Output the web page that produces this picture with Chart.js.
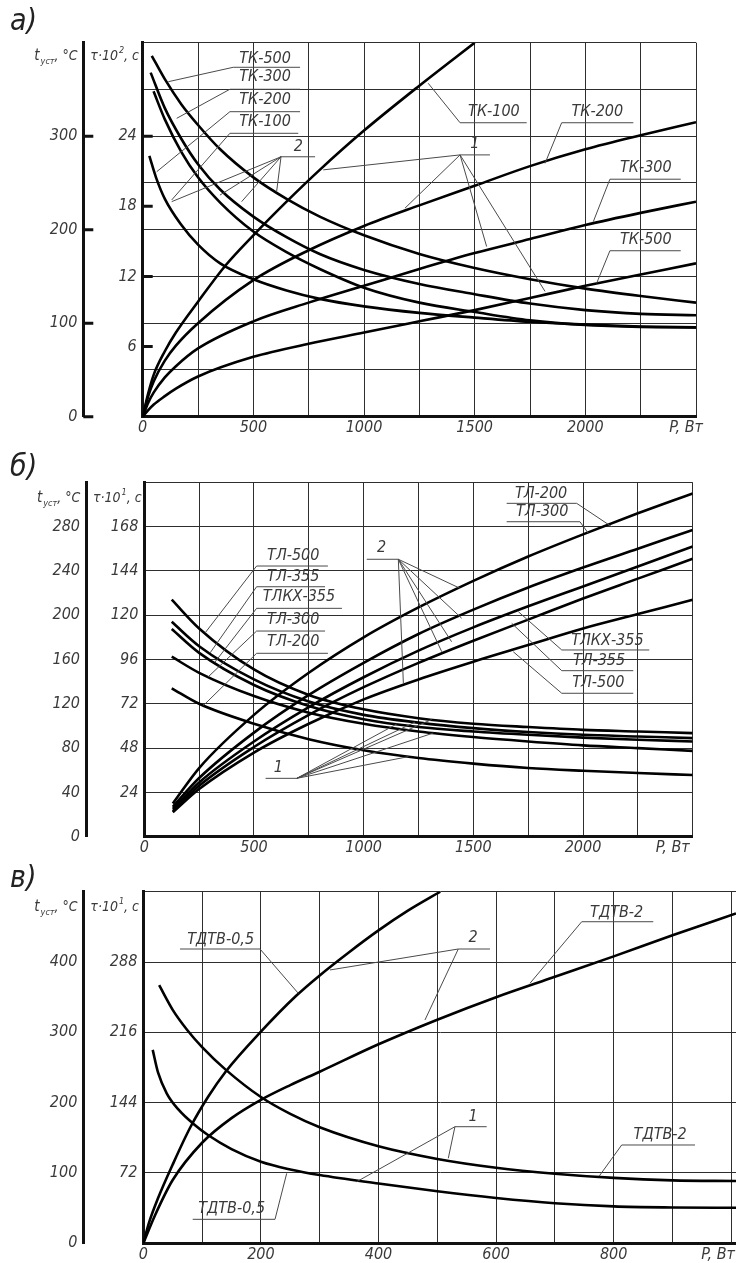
<!DOCTYPE html>
<html lang="ru">
<head>
<meta charset="utf-8">
<title>Нагрев трансформаторов</title>
<script src="https://cdn.jsdelivr.net/npm/chart.js@4.4.1/dist/chart.umd.min.js"></script>
<style>
  body { margin: 0; background: #fff; }
  canvas.panel { position: absolute; left: 0; }
</style>
</head>
<body>
<canvas id="graficaA" class="panel" width="736" height="440" style="top:0"></canvas>
<canvas id="graficaB" class="panel" width="736" height="420" style="top:440px"></canvas>
<canvas id="graficaC" class="panel" width="736" height="403" style="top:860px"></canvas>
<script>
// ---------- а) ТК: P, Вт -> t_уст, °C ----------
const potA_DecTK500 = [41, 100, 175, 250, 350, 500, 650, 800, 1000, 1250, 1500, 1750, 2000, 2250, 2500];
const tempA_DecTK500 = [386, 361, 334, 312, 286, 256, 233, 214, 194, 174, 159, 147, 137, 129, 122];
const potA_DecTK300 = [36, 100, 175, 250, 350, 500, 650, 800, 1000, 1250, 1500, 1750, 2000, 2250, 2500];
const tempA_DecTK300 = [368, 330, 297, 270, 243, 214, 192, 174, 157, 142, 131, 121, 114, 110, 108.5];
const potA_DecTK200 = [49, 100, 175, 250, 350, 500, 650, 800, 1000, 1250, 1500, 1750, 2000, 2250, 2500];
const tempA_DecTK200 = [348, 318, 283, 256, 229, 198, 176, 158, 138, 122, 112, 103, 98, 96, 95.5];
const potA_DecTK100 = [30, 60, 100, 175, 250, 350, 500, 650, 800, 1000, 1250, 1500, 1750, 2000, 2250, 2500];
const tempA_DecTK100 = [279, 256, 233, 205, 184, 164, 147, 135, 126, 118, 111, 106, 101.5, 98.5, 96.5, 95.5];

const potA_SubTK100 = [0, 25, 50, 100, 150, 250, 375, 500, 650, 800, 1000, 1250, 1500];
const tempA_SubTK100 = [0, 25, 45, 70, 90, 123, 162, 194, 230, 264, 306, 354, 400];
const potA_Sub = [0, 25, 50, 100, 150, 250, 500, 750, 1000, 1250, 1500, 1750, 2000, 2250, 2500];
const tempA_SubTK200 = [0, 22, 38, 60, 76, 100, 146, 178, 204, 226, 247, 268, 286, 301, 315];
const tempA_SubTK300 = [0, 15, 26, 42, 54, 73, 102, 122, 140, 158, 175, 190, 205, 218, 230];
const tempA_SubTK500 = [0, 7, 13, 22, 30, 43, 64, 78, 90, 102, 114, 127, 140, 152, 164];

const potTicksA = [0, 500, 1000, 1500, 2000];
const tempTicksA = [0, 100, 200, 300];
const tauTicksA = [6, 12, 18, 24];

// ---------- б) ТЛ ----------
const potB_Dec = [125, 250, 500, 750, 1000, 1250, 1500, 1750, 2000, 2250, 2500];
const tempB_DecTL500 = [214, 188, 151, 128, 115, 107, 102, 99, 96.5, 95, 93.5];
const tempB_DecTL355 = [194, 172, 142, 122, 110, 103, 98, 94.5, 92, 90.5, 89];
const tempB_DecTLKX355 = [187.5, 166, 137, 118, 106, 99, 95, 92, 89.5, 87.5, 86];
const tempB_DecTL300 = [162.5, 148, 127, 112, 102, 95, 90, 86, 82.5, 80, 77.5];
const tempB_DecTL200 = [134, 120, 102, 88, 78, 71, 66, 62, 59.5, 57.5, 55.7];

const potB_Sub = [130, 250, 500, 750, 1000, 1250, 1500, 1750, 2000, 2250, 2500];
const tempB_SubTL200 = [30, 62, 110, 148, 180, 207, 231, 253, 273, 292, 310];
const tempB_SubTL300 = [27, 53, 94, 128, 157, 183, 205, 225, 243, 260, 277];
const tempB_SubTLKX355 = [25, 49, 86, 117, 144, 168, 189, 208, 226, 244, 262];
const tempB_SubTL355 = [23, 46, 81, 110, 135, 157, 177, 196, 215, 233, 251];
const tempB_SubTL500 = [22, 43, 76, 102, 124, 142, 158, 173, 188, 201, 214];

const potTicksB = [0, 500, 1000, 1500, 2000];
const tempTicksB = [0, 40, 80, 120, 160, 200, 240, 280];
const tauTicksB = [24, 48, 72, 96, 120, 144, 168];

// ---------- в) ТДТВ ----------
const potC_Sub05 = [0, 10, 25, 50, 80, 110, 140, 200, 260, 300, 350, 400, 450, 505];
const tempC_Sub05 = [0, 30, 64, 112, 165, 208, 244, 301, 352, 381, 414, 445, 473, 500];
const potC_Sub2 = [0, 20, 50, 100, 150, 200, 250, 300, 400, 500, 600, 700, 800, 900, 1008];
const tempC_Sub2 = [0, 40, 90, 143, 178, 204, 225, 244, 283, 318, 350, 379, 408, 438, 469];
const potC_Dec2 = [27, 50, 75, 100, 140, 200, 250, 300, 400, 500, 600, 700, 800, 900, 1008];
const tempC_Dec2 = [367, 332, 303, 279, 247, 208, 184, 165, 138, 120, 107.5, 99, 93, 89.5, 88.5];
const potC_Dec05 = [16, 25, 40, 60, 85, 110, 150, 200, 250, 300, 400, 500, 600, 700, 800, 900, 1008];
const tempC_Dec05 = [275, 243, 213, 190, 170, 154, 134, 116, 105, 97, 85, 74, 64.5, 57, 52.5, 51, 50.5];

const potTicksC = [0, 200, 400, 600, 800];
const tempTicksC = [0, 100, 200, 300, 400];
const tauTicksC = [72, 144, 216, 288];

const FUENTE = "'Liberation Sans Narrow', 'DejaVu Sans Condensed', sans-serif";
const TINTA = "#111";
const GRIS = "#3a3a3a";
const REJILLA = "#2e2e2e";

function mismo(v, lista) {
    return lista.some((w) => Math.abs(w - v) < 1e-6);
}

// punto sobre una curva (para las líneas de referencia)
function enCurva(xs, ys, p) {
    for (let i = 1; i < xs.length; i++) {
        if (p <= xs[i]) {
            const f = (p - xs[i - 1]) / (xs[i] - xs[i - 1]);
            return [p, ys[i - 1] + f * (ys[i] - ys[i - 1])];
        }
    }
    return [p, ys[ys.length - 1]];
}

function abanico(origen, destinos) {
    return destinos.map((d) => [origen, d]);
}

function serie(xs, ys) {
    return {
        data: xs.map((x, i) => ({ x: x, y: ys[i] })),
        borderColor: "#000",
        borderWidth: 2.6,
        pointRadius: 0,
        cubicInterpolationMode: "monotone",
        yAxisID: "t",
    };
}

function tramo(ctx, texto, x, y, size) {
    ctx.font = `italic ${size}px ${FUENTE}`;
    ctx.fillText(texto, x, y);
    return x + ctx.measureText(texto).width;
}

const pluginDibujo = {
    id: "dibujo",
    afterDraw(chart, args, o) {
        const { ctx, chartArea: area } = chart;
        const sx = chart.scales.x;
        const st = chart.scales.t;
        const su = chart.scales.tau;
        const px = (v) => sx.getPixelForValue(v);
        const py = (v) => st.getPixelForValue(v);
        ctx.save();

        if (o.marcasT) {
            ctx.strokeStyle = TINTA;
            ctx.lineWidth = 3;
            ctx.beginPath();
            o.marcasT.forEach((v) => {
                const y = py(v);
                ctx.moveTo(st.right, y);
                ctx.lineTo(st.right + 10, y);
            });
            o.marcasTau.forEach((v) => {
                const y = su.getPixelForValue(v);
                ctx.moveTo(area.left, y);
                ctx.lineTo(area.left + 10, y);
            });
            ctx.stroke();
        }

        // líneas de referencia
        ctx.strokeStyle = "#4a4a4a";
        ctx.lineWidth = 1;
        o.trazos.forEach((tr) => {
            ctx.beginPath();
            tr.forEach(([x, y], i) => {
                if (i) ctx.lineTo(px(x), py(y));
                else ctx.moveTo(px(x), py(y));
            });
            ctx.stroke();
        });

        ctx.fillStyle = GRIS;
        ctx.font = `italic 16px ${FUENTE}`;
        ctx.textAlign = "center";
        ctx.textBaseline = "middle";
        o.textos.forEach(([txt, x, y]) => ctx.fillText(txt, px(x), py(y)));

        // P, Вт
        ctx.textAlign = "right";
        ctx.fillText("P, Вт", px(sx.max) + o.dxP, area.bottom + 11.6);

        // títulos de los ejes
        ctx.textAlign = "left";
        ctx.textBaseline = "alphabetic";
        const yt = area.top + o.dyTitulo;
        let x = st.right - 49;
        x = tramo(ctx, "t", x, yt, 15);
        x = tramo(ctx, "уст", x + 1, yt + 4, 9);
        tramo(ctx, ", °C", x, yt, 14);
        x = st.right + 7;
        x = tramo(ctx, "τ·10", x, yt, 14);
        x = tramo(ctx, o.exponente, x + 1, yt - 7, 9);
        tramo(ctx, ", с", x, yt, 14);

        ctx.fillStyle = "#222";
        tramo(ctx, o.letra, 10, o.letraY, 30);
        ctx.restore();
    },
};

const fuenteTicks = { family: FUENTE, style: "italic", size: 16 };

function crearGrafica(id, c) {
    return new Chart(document.getElementById(id), {
        type: "line",
        data: { datasets: c.series },
        options: {
            responsive: false,
            animation: false,
            devicePixelRatio: 1,
            layout: { padding: { top: c.arriba, right: c.derecha, left: 0, bottom: 0 } },
            plugins: {
                legend: { display: false },
                tooltip: { enabled: false },
                dibujo: c.dibujo,
            },
            scales: {
                x: {
                    type: "linear",
                    min: 0,
                    max: c.pMax,
                    afterFit: (s) => { s.height = c.altoX; },
                    afterBuildTicks: (s) => {
                        const marcas = [];
                        for (let v = 0; v <= c.pMax + 1e-9; v += c.pPaso) marcas.push({ value: v });
                        s.ticks = marcas;
                    },
                    ticks: {
                        autoSkip: false,
                        maxRotation: 0,
                        minRotation: 0,
                        padding: 2,
                        color: GRIS,
                        font: fuenteTicks,
                        callback: (v) => (mismo(v, c.pTicks) ? String(v) : ""),
                    },
                    grid: { color: REJILLA, lineWidth: 1, drawTicks: false },
                    border: { color: TINTA, width: 3 },
                },
                tau: {
                    type: "linear",
                    position: "left",
                    weight: 0,
                    min: 0,
                    max: c.tauMax,
                    afterFit: (s) => { s.width = c.anchoTau; },
                    ticks: {
                        stepSize: c.tauPaso,
                        padding: 6,
                        color: GRIS,
                        font: fuenteTicks,
                        callback: (v) => (mismo(v, c.tauTicks) ? String(v) : ""),
                    },
                    grid: { drawOnChartArea: false, drawTicks: false },
                    border: { color: TINTA, width: 3 },
                },
                t: {
                    type: "linear",
                    position: "left",
                    weight: 1,
                    min: 0,
                    max: c.tMax,
                    afterFit: (s) => { s.width = c.anchoT; },
                    ticks: {
                        stepSize: c.tPaso,
                        padding: 6,
                        color: GRIS,
                        font: fuenteTicks,
                        callback: (v) => (mismo(v, c.tTicks) ? String(v) : ""),
                    },
                    grid: { color: REJILLA, lineWidth: 1, drawTicks: false },
                    border: { color: TINTA, width: 3 },
                },
            },
        },
        plugins: [pluginDibujo],
    });
}

// ---------- а) ----------
crearGrafica("graficaA", {
    series: [
        serie(potA_DecTK500, tempA_DecTK500),
        serie(potA_DecTK300, tempA_DecTK300),
        serie(potA_DecTK200, tempA_DecTK200),
        serie(potA_DecTK100, tempA_DecTK100),
        serie(potA_SubTK100, tempA_SubTK100),
        serie(potA_Sub, tempA_SubTK200),
        serie(potA_Sub, tempA_SubTK300),
        serie(potA_Sub, tempA_SubTK500),
    ],
    arriba: 42.7, derecha: 40, altoX: 23.3, anchoT: 83.3, anchoTau: 59.4,
    pMax: 2500, pPaso: 250, pTicks: potTicksA,
    tMax: 400, tPaso: 50, tTicks: tempTicksA,
    tauMax: 32, tauPaso: 6, tauTicks: tauTicksA,
    dibujo: {
        letra: "а)", letraY: 30, dyTitulo: 17, exponente: "2", dxP: 7,
        marcasT: [0, 100, 200, 300], marcasTau: tauTicksA,
        textos: [
            ["ТК-500", 553, 383], ["ТК-300", 553, 363], ["ТК-200", 553, 339], ["ТК-100", 553, 315.5],
            ["2", 703, 289], ["1", 1501, 292],
            ["ТК-100", 1587, 326], ["ТК-200", 2054, 326], ["ТК-300", 2273, 266], ["ТК-500", 2273, 189],
        ],
        trazos: [
            [[711, 373.7], [409, 373.7], [115.7, 358.3]],
            [[711, 350.2], [394, 350.2], [153.6, 319.1]],
            [[711, 326.2], [394, 326.2], [63.3, 262]],
            [[703, 303.1], [394, 303.1], [131, 231.8]],
            [[779, 278], [620, 278]],
            ...abanico([625, 278], [[131, 230], [349, 237], [447, 230], [605, 240.6]]),
            [[1569, 280], [1434, 280]],
            ...abanico([1434, 280], [[816, 264], [1185, 223], [1554, 182], [1818, 134]]),
            [[1735, 314.4], [1434, 314.4], [1290, 356.6]],
            [[2217, 314.4], [1893, 314.4], [1818, 271]],
            [[2431, 254], [2111, 254], [2036, 208.6]],
            [[2431, 177.5], [2111, 177.5], [2051, 142.7]],
        ],
    },
});

// ---------- б) ----------
crearGrafica("graficaB", {
    series: [
        serie(potB_Dec, tempB_DecTL500),
        serie(potB_Dec, tempB_DecTL355),
        serie(potB_Dec, tempB_DecTLKX355),
        serie(potB_Dec, tempB_DecTL300),
        serie(potB_Dec, tempB_DecTL200),
        serie(potB_Sub, tempB_SubTL200),
        serie(potB_Sub, tempB_SubTL300),
        serie(potB_Sub, tempB_SubTLKX355),
        serie(potB_Sub, tempB_SubTL355),
        serie(potB_Sub, tempB_SubTL500),
    ],
    arriba: 42.3, derecha: 43.3, altoX: 23.3, anchoT: 86, anchoTau: 58.3,
    pMax: 2500, pPaso: 250, pTicks: potTicksB,
    tMax: 320, tPaso: 40, tTicks: tempTicksB,
    tauMax: 192, tauPaso: 24, tauTicks: tauTicksB,
    dibujo: {
        letra: "б)", letraY: 36, dyTitulo: 20, exponente: "1", dxP: -3,
        textos: [
            ["ТЛ-500", 679, 253.5], ["ТЛ-355", 679, 234.8], ["ТЛКХ-355", 705, 216.7],
            ["ТЛ-300", 679, 195.7], ["ТЛ-200", 679, 176],
            ["2", 1082, 260.4], ["1", 611, 61.8],
            ["ТЛ-200", 1809, 309.5], ["ТЛ-300", 1814, 292.9],
            ["ТЛКХ-355", 2111, 177], ["ТЛ-355", 2073, 158.9], ["ТЛ-500", 2070, 138.5],
        ],
        trazos: [
            [[837, 244.4], [512, 244.4], enCurva(potB_Dec, tempB_DecTL500, 277)],
            [[824, 225.7], [512, 225.7], enCurva(potB_Dec, tempB_DecTL355, 300)],
            [[901, 206.2], [512, 206.2], enCurva(potB_Dec, tempB_DecTLKX355, 322)],
            [[824, 185.7], [512, 185.7], enCurva(potB_Dec, tempB_DecTL300, 292)],
            [[837, 165.6], [512, 165.6], enCurva(potB_Dec, tempB_DecTL200, 270)],
            [[1014, 250.5], [1158, 250.5]],
            ...abanico([1158, 250.5], [[1439, 224.3], [1447, 197.2], [1401, 176], [1356, 167], [1181, 138.5]]),
            [[553, 52.7], [695, 52.7]],
            ...abanico([695, 52.7], [
                enCurva(potB_Dec, tempB_DecTL500, 1310),
                enCurva(potB_Dec, tempB_DecTL355, 1234),
                enCurva(potB_Dec, tempB_DecTLKX355, 1151),
                enCurva(potB_Dec, tempB_DecTL300, 1318),
                enCurva(potB_Dec, tempB_DecTL200, 1204),
            ]),
            [[1652, 301], [1971, 301], [2131, 279.9]],
            [[1652, 284.4], [1986, 284.4], [2024, 274]],
            [[2302, 168.6], [1903, 168.6], [1705, 203.2]],
            [[2229, 149.9], [1903, 149.9], [1675, 192.7]],
            [[2229, 129.5], [1903, 129.5], [1682, 167]],
        ],
    },
});

// ---------- в) ----------
crearGrafica("graficaC", {
    series: [
        serie(potC_Sub05, tempC_Sub05),
        serie(potC_Sub2, tempC_Sub2),
        serie(potC_Dec2, tempC_Dec2),
        serie(potC_Dec05, tempC_Dec05),
    ],
    arriba: 31.7, derecha: 0, altoX: 19.7, anchoT: 83.3, anchoTau: 60,
    pMax: 1008, pPaso: 100, pTicks: potTicksC,
    tMax: 500, tPaso: 100, tTicks: tempTicksC,
    tauMax: 360, tauPaso: 72, tauTicks: tauTicksC,
    dibujo: {
        letra: "в)", letraY: 27, dyTitulo: 19, exponente: "1", dxP: -1,
        textos: [
            ["ТДТВ-0,5", 131.6, 431.3], ["2", 561, 433.7], ["ТДТВ-2", 805, 469.3],
            ["1", 561, 180], ["ТДТВ-2", 879, 154], ["ТДТВ-0,5", 150.3, 48.4],
        ],
        trazos: [
            [[62.4, 418.5], [198.5, 418.5], [263.6, 355.5]],
            [[589.6, 418.5], [535.7, 418.5]],
            ...abanico([535.7, 418.5], [[317.5, 388.7], [479, 317.5]]),
            [[867.3, 457.3], [745.6, 457.3], [657.6, 369.7]],
            [[584, 165.8], [530, 165.8]],
            ...abanico([530, 165.8], [[363, 87.6], [518.7, 120.9]]),
            [[938.3, 139.8], [813.6, 139.8], [775.5, 95.7]],
            [[84, 34.1], [224, 34.1], [243.9, 99.5]],
        ],
    },
});
</script>
</body>
</html>
